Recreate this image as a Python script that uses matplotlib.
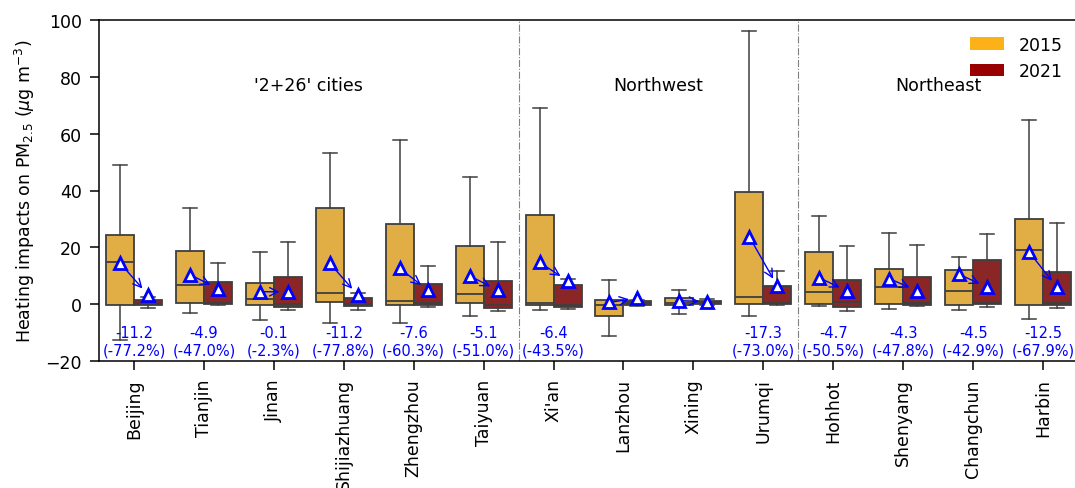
import numpy as np
import matplotlib
matplotlib.use('Agg')
import matplotlib.pyplot as plt
from matplotlib.patches import Patch

# Staedte und Regionen
cities = ['Beijing', 'Tianjin', 'Jinan', 'Shijiazhuang', 'Zhengzhou', 'Taiyuan',
          "Xi'an", 'Lanzhou', 'Xining', 'Urumqi',
          'Hohhot', 'Shenyang', 'Changchun', 'Harbin']
regions = ["'2+26' cities", 'Northwest', 'Northeast']
region_center = [2.5, 7.5, 11.5]
region_border = [5.5, 9.5]

# Boxplot-Kennwerte 2015
whislo15 = [-12.5, -3.2, -5.4, -6.7, -6.7, -4.0, -2.2, -11.3, -3.4, -4.3, -0.8, -1.8, -1.9, -5.2]
q1_15 = [-0.4, 0.3, -0.2, 0.9, -0.2, 0.3, -0.2, -4.3, -0.2, 0.1, 0.1, 0.1, -0.3, -0.4]
med15 = [14.7, 6.6, 1.8, 4.1, 1.0, 3.5, 0.4, -0.3, 0.3, 2.4, 4.4, 6.1, 4.5, 19.2]
q3_15 = [24.5, 18.8, 7.3, 33.8, 28.2, 20.4, 31.5, 1.5, 2.3, 39.5, 18.5, 12.4, 12.0, 30.1]
whishi15 = [49.1, 33.7, 18.4, 53.2, 57.9, 44.7, 69.0, 8.6, 4.9, 96.1, 31.0, 25.1, 16.7, 64.8]
mean15 = [14.5, 10.4, 4.4, 14.4, 12.6, 10.0, 14.7, 0.6, 1.2, 23.7, 9.3, 9.0, 10.5, 18.4]

# Boxplot-Kennwerte 2021
whislo21 = [-1.2, -0.2, -1.9, -2.0, -1.1, -2.5, -1.8, -0.5, -0.3, -0.2, -2.5, -0.8, -1.1, -1.4]
q1_21 = [-0.3, 0.1, -1.1, -0.6, -0.4, -1.5, -1.1, -0.2, 0.0, 0.0, -1.1, -0.3, 0.1, -0.3]
med21 = [0.2, 0.3, 0.2, 0.1, 0.5, -0.3, -0.3, 0.5, 0.6, 0.3, 0.9, 0.4, 0.3, 0.3]
q3_21 = [1.5, 7.7, 9.7, 2.1, 7.0, 8.0, 6.6, 1.2, 1.2, 6.3, 8.4, 9.7, 15.7, 11.2]
whishi21 = [2.6, 14.6, 21.9, 3.8, 13.5, 21.9, 8.9, 1.6, 1.9, 11.7, 20.5, 20.7, 24.6, 28.5]
mean21 = [3.3, 5.5, 4.3, 3.2, 5.0, 4.9, 8.3, 2.2, 0.9, 6.4, 4.6, 4.7, 6.0, 5.9]

# Aenderung der Mittelwerte (Beschriftung)
diff_txt = ['-11.2', '-4.9', '-0.1', '-11.2', '-7.6', '-5.1', '-6.4', '', '', '-17.3',
            '-4.7', '-4.3', '-4.5', '-12.5']
pct_txt = ['-77.2%', '-47.0%', '-2.3%', '-77.8%', '-60.3%', '-51.0%', '-43.5%', '', '', '-73.0%',
           '-50.5%', '-47.8%', '-42.9%', '-67.9%']

col15 = '#FCB118'
col21 = '#990000'
box15 = '#E0AE45'
box21 = '#8B2626'
grey = '#3f3f3f'
fs = 12.5

plt.rcParams['font.family'] = ['DejaVu Sans']
fig = plt.figure(figsize=(10.75, 4.89), dpi=100)
ax = fig.add_axes([99/1075, 1-362/489, (1078-99)/1075, 341/489])

x = np.arange(len(cities))

def make_stats(lo, q1, med, q3, hi):
    stats = list()
    for i in range(len(lo)):
        stats.append(dict(whislo=lo[i], q1=q1[i], med=med[i], q3=q3[i], whishi=hi[i], fliers=[]))
    return stats

for stats, pos, fc in [(make_stats(whislo15, q1_15, med15, q3_15, whishi15), x-0.2, box15),
                       (make_stats(whislo21, q1_21, med21, q3_21, whishi21), x+0.2, box21)]:
    ax.bxp(stats, positions=pos, widths=0.4, patch_artist=True, showfliers=False,
           manage_ticks=False,
           boxprops=dict(facecolor=fc, edgecolor=grey, linewidth=1.3),
           medianprops=dict(color=grey, linewidth=1.3),
           whiskerprops=dict(color=grey, linewidth=1.1),
           capprops=dict(color=grey, linewidth=1.1))

# Pfeile und Mittelwerte
for i in range(len(cities)):
    ax.annotate('', xy=(x[i]+0.2, mean21[i]), xytext=(x[i]-0.2, mean15[i]),
                arrowprops=dict(arrowstyle='->', color='blue', lw=1.0,
                                shrinkA=0, shrinkB=6, mutation_scale=15), zorder=4)
    if diff_txt[i]:
        ax.text(x[i], -13, diff_txt[i] + '\n(' + pct_txt[i] + ')', color='blue',
                ha='center', va='center', fontsize=10.5)

ax.plot(x-0.2, mean15, '^', ls='none', mfc='white', mec='blue', mew=2, ms=8.5, zorder=5)
ax.plot(x+0.2, mean21, '^', ls='none', mfc='white', mec='blue', mew=2, ms=8.5, zorder=5)

for b in region_border:
    ax.axvline(b, color='grey', ls='-.', lw=0.8)
for r, c in zip(regions, region_center):
    ax.text(c, 77, r, ha='center', va='center', fontsize=fs)

ax.set_xlim(-0.5, 13.5)
ax.set_ylim(-20, 100)
ax.set_yticks(np.arange(-20, 101, 20))
ax.set_xticks(x)
ax.set_xticklabels(cities, rotation=90, fontsize=fs)
ax.tick_params(axis='both', labelsize=fs, length=6.5, width=1.1, pad=6)
for s in ax.spines.values():
    s.set_linewidth(1.1)
ax.set_ylabel('Heating impacts on PM$_{2.5}$ ($\\mu$g m$^{-3}$)', fontsize=fs, labelpad=6)

handles = [Patch(facecolor=col15, label='2015'), Patch(facecolor=col21, label='2021')]
ax.legend(handles=handles, loc='upper right', frameon=False, fontsize=fs,
          bbox_to_anchor=(1.0, 1.0))

plt.savefig('out.png', dpi=100)
